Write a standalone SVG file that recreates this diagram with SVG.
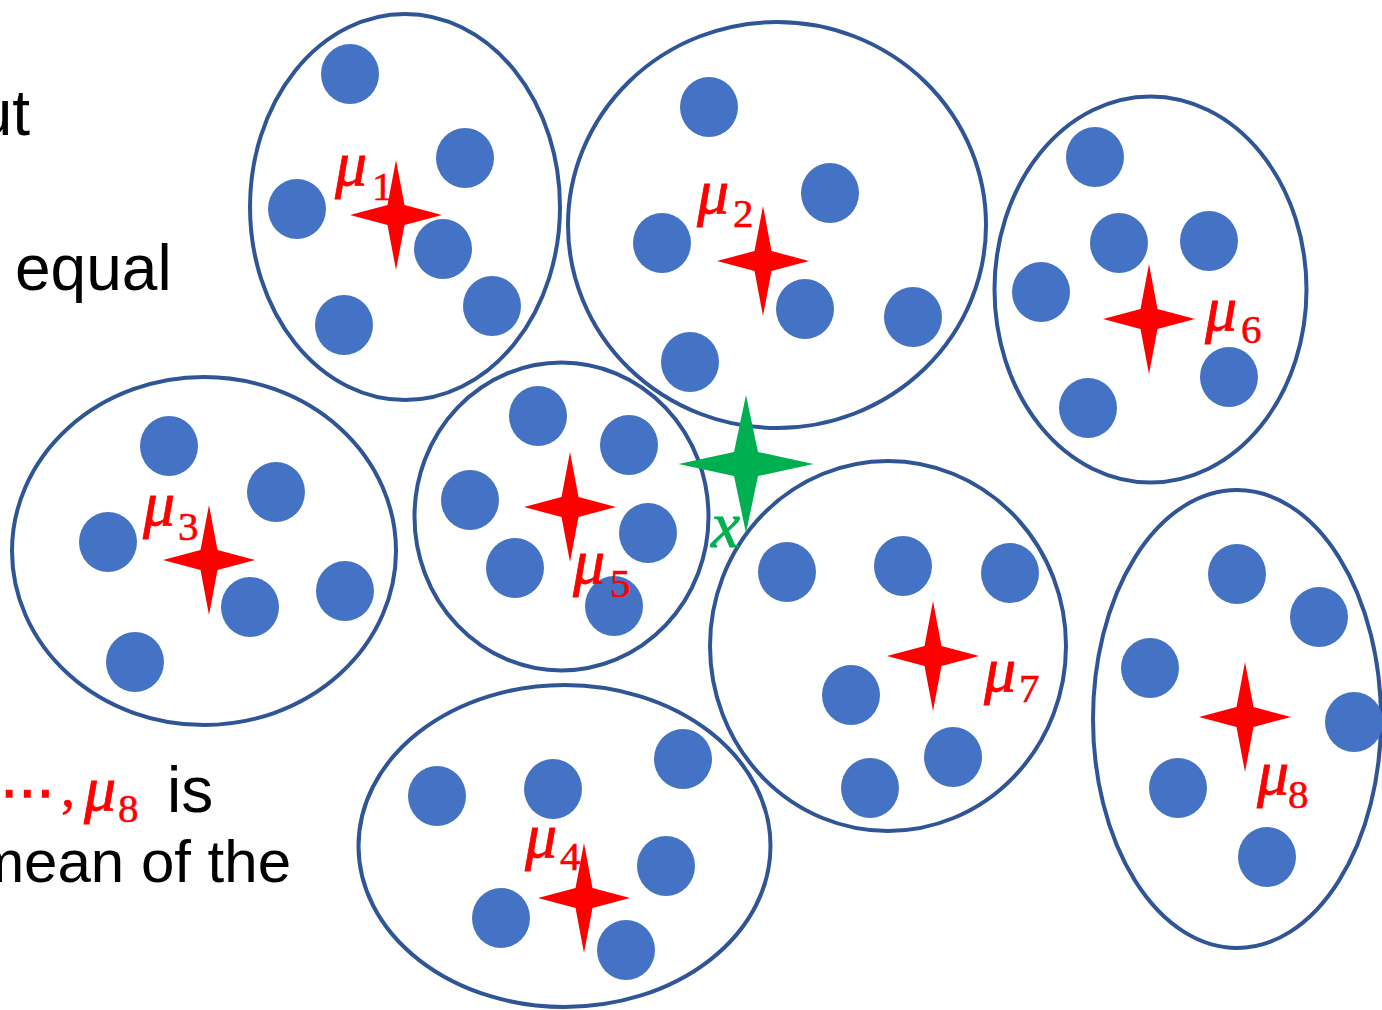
<svg xmlns="http://www.w3.org/2000/svg" xmlns:xlink="http://www.w3.org/1999/xlink" width="1382" height="1010" viewBox="0 0 1382 1010">
<style>
.cl{fill:none;stroke:#2F5597;stroke-width:4}
.pt{fill:#4472C4}
.txt{font-family:"Liberation Sans",Arial,sans-serif;fill:#000}
.mu{font-family:"Liberation Serif","Times New Roman",serif;font-style:italic;font-size:64px;fill:#FF0000;stroke:#FF0000;stroke-width:0.8}
.sub{font-family:"Liberation Serif","Times New Roman",serif;font-style:normal;font-size:41px;fill:#FF0000;stroke:#FF0000;stroke-width:0.6}
.red{fill:#FF0000}
.grn{fill:#00B050}
</style>
<defs>
<path id="rstar" d="M0,-55 L8.5,-10 L46,0 L8.5,10 L0,55 L-8.5,10 L-46,0 L-8.5,-10 Z"/>
<path id="gstar" d="M0,-69 L12,-12 L67.5,0 L12,12 L0,69 L-12,12 L-67.5,0 L-12,-12 Z"/>
<ellipse id="dot" rx="29" ry="30"/>
</defs>

<g id="text">
<text class="txt" x="30" y="135" font-size="64" text-anchor="end">ut</text>
<text class="txt" x="15" y="290" font-size="64">equal</text>
<text x="0" y="811" font-family="DejaVu Sans,sans-serif" font-size="55" fill="#FF0000" stroke="#FF0000" stroke-width="1.2">⋯</text>
<text x="61" y="806" font-family="Liberation Serif,serif" font-size="56" fill="#FF0000" stroke="#FF0000" stroke-width="0.6">,</text>
<text x="84" y="810" class="mu">μ</text>
<text x="118" y="822" class="sub">8</text>
<text class="txt" x="167" y="812" font-size="64">is</text>
<text class="txt" x="291" y="882" font-size="60" text-anchor="end">mean of the</text>
</g>

<g id="connectors"></g>

<g id="cluster1">
<ellipse class="cl" cx="405" cy="207" rx="155" ry="193"/>
<use xlink:href="#dot" class="pt" x="350" y="74"/>
<use xlink:href="#dot" class="pt" x="465" y="158"/>
<use xlink:href="#dot" class="pt" x="297" y="209"/>
<use xlink:href="#dot" class="pt" x="443" y="249"/>
<use xlink:href="#dot" class="pt" x="492" y="306"/>
<use xlink:href="#dot" class="pt" x="344" y="325"/>
</g>
<g id="cluster2">
<ellipse class="cl" cx="777" cy="225" rx="209" ry="203"/>
<use xlink:href="#dot" class="pt" x="709" y="107"/>
<use xlink:href="#dot" class="pt" x="830" y="193"/>
<use xlink:href="#dot" class="pt" x="662" y="243"/>
<use xlink:href="#dot" class="pt" x="805" y="309"/>
<use xlink:href="#dot" class="pt" x="913" y="317"/>
<use xlink:href="#dot" class="pt" x="690" y="362"/>
</g>
<g id="cluster6">
<ellipse class="cl" cx="1150.5" cy="289.5" rx="156" ry="193"/>
<use xlink:href="#dot" class="pt" x="1095" y="157"/>
<use xlink:href="#dot" class="pt" x="1119" y="243"/>
<use xlink:href="#dot" class="pt" x="1209" y="241"/>
<use xlink:href="#dot" class="pt" x="1041" y="292"/>
<use xlink:href="#dot" class="pt" x="1229" y="377"/>
<use xlink:href="#dot" class="pt" x="1088" y="408"/>
</g>
<g id="cluster3">
<ellipse class="cl" cx="204" cy="551" rx="192" ry="174"/>
<use xlink:href="#dot" class="pt" x="169" y="446"/>
<use xlink:href="#dot" class="pt" x="276" y="492"/>
<use xlink:href="#dot" class="pt" x="108" y="542"/>
<use xlink:href="#dot" class="pt" x="250" y="607"/>
<use xlink:href="#dot" class="pt" x="345" y="591"/>
<use xlink:href="#dot" class="pt" x="135" y="662"/>
</g>
<g id="cluster5">
<ellipse class="cl" cx="561.5" cy="516.5" rx="147" ry="154"/>
<use xlink:href="#dot" class="pt" x="538" y="416"/>
<use xlink:href="#dot" class="pt" x="629" y="445"/>
<use xlink:href="#dot" class="pt" x="470" y="500"/>
<use xlink:href="#dot" class="pt" x="648" y="533"/>
<use xlink:href="#dot" class="pt" x="515" y="568"/>
<use xlink:href="#dot" class="pt" x="614" y="606"/>
</g>
<g id="cluster7">
<ellipse class="cl" cx="888" cy="646" rx="178" ry="185"/>
<use xlink:href="#dot" class="pt" x="787" y="572"/>
<use xlink:href="#dot" class="pt" x="903" y="566"/>
<use xlink:href="#dot" class="pt" x="1010" y="573"/>
<use xlink:href="#dot" class="pt" x="851" y="695"/>
<use xlink:href="#dot" class="pt" x="953" y="757"/>
<use xlink:href="#dot" class="pt" x="870" y="788"/>
</g>
<g id="cluster8">
<ellipse class="cl" cx="1237" cy="719" rx="144" ry="229"/>
<use xlink:href="#dot" class="pt" x="1237" y="574"/>
<use xlink:href="#dot" class="pt" x="1319" y="617"/>
<use xlink:href="#dot" class="pt" x="1150" y="668"/>
<use xlink:href="#dot" class="pt" x="1354" y="722"/>
<use xlink:href="#dot" class="pt" x="1178" y="788"/>
<use xlink:href="#dot" class="pt" x="1267" y="857"/>
</g>
<g id="cluster4">
<ellipse class="cl" cx="564.5" cy="846" rx="206" ry="161"/>
<use xlink:href="#dot" class="pt" x="437" y="796"/>
<use xlink:href="#dot" class="pt" x="553" y="789"/>
<use xlink:href="#dot" class="pt" x="683" y="759"/>
<use xlink:href="#dot" class="pt" x="666" y="866"/>
<use xlink:href="#dot" class="pt" x="501" y="918"/>
<use xlink:href="#dot" class="pt" x="626" y="950"/>
</g>

<g id="mean1"><use xlink:href="#rstar" class="red" x="396" y="215"/><text class="mu" x="335" y="185">μ</text><text class="sub" x="372" y="200">1</text></g>
<g id="mean2"><use xlink:href="#rstar" class="red" x="763" y="261"/><text class="mu" x="697" y="213">μ</text><text class="sub" x="733" y="227">2</text></g>
<g id="mean3"><use xlink:href="#rstar" class="red" x="209" y="560"/><text class="mu" x="143" y="525">μ</text><text class="sub" x="178" y="540">3</text></g>
<g id="mean4"><use xlink:href="#rstar" class="red" x="584" y="898"/><text class="mu" x="525" y="857">μ</text><text class="sub" x="560" y="870">4</text></g>
<g id="mean5"><use xlink:href="#rstar" class="red" x="570" y="507"/><text class="mu" x="573" y="583">μ</text><text class="sub" x="610" y="597">5</text></g>
<g id="mean6"><use xlink:href="#rstar" class="red" x="1149" y="319"/><text class="mu" x="1205" y="330">μ</text><text class="sub" x="1241" y="343">6</text></g>
<g id="mean7"><use xlink:href="#rstar" class="red" x="933" y="656"/><text class="mu" x="984" y="691">μ</text><text class="sub" x="1019" y="702">7</text></g>
<g id="mean8"><use xlink:href="#rstar" class="red" x="1245" y="717"/><text class="mu" x="1257" y="794">μ</text><text class="sub" x="1288" y="808">8</text></g>

<g id="point-x"><use xlink:href="#gstar" class="grn" x="746" y="464"/><text x="711" y="547" font-family="Liberation Serif,serif" font-style="italic" font-size="66" fill="#00B050" stroke="#00B050" stroke-width="0.8">x</text></g>
</svg>
